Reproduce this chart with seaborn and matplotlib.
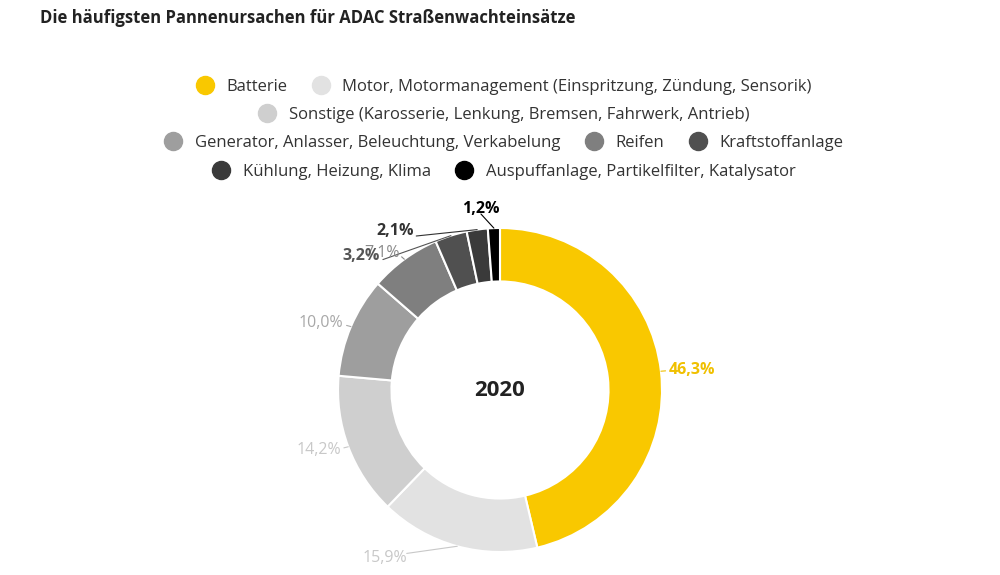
import matplotlib
matplotlib.use("Agg")
import matplotlib.pyplot as plt
import seaborn as sns
import numpy as np
from matplotlib.lines import Line2D

sns.set_theme(style="white")
plt.rcParams["font.family"] = "Open Sans"

categories = ["Batterie", "Motor, Motormanagement (Einspritzung, Zündung, Sensorik)",
              "Sonstige (Karosserie, Lenkung, Bremsen, Fahrwerk, Antrieb)",
              "Generator, Anlasser, Beleuchtung, Verkabelung", "Reifen", "Kraftstoffanlage",
              "Kühlung, Heizung, Klima", "Auspuffanlage, Partikelfilter, Katalysator"]
values = [46.3, 15.9, 14.2, 10.0, 7.1, 3.2, 2.1, 1.2]
labels = ["46,3%", "15,9%", "14,2%", "10,0%", "7,1%", "3,2%", "2,1%", "1,2%"]
colors = ["#f9c800", "#e2e2e2", "#cfcfcf", "#9e9e9e", "#7f7f7f", "#505050", "#3a3a3a", "#000000"]
label_colors = ["#f0c000", "#c8c8c8", "#c8c8c8", "#a8a8a8", "#8a8a8a", "#555555", "#333333", "#000000"]

fig = plt.figure(figsize=(10, 5.75), dpi=100)
fig.text(0.04, 1 - 18/575, "Die häufigsten Pannenursachen für ADAC Straßenwachteinsätze",
         fontsize=12, fontweight="bold", color="#222222", va="center")

rows = [[0, 1], [2], [3, 4, 5], [6, 7]]
row_y = [87, 115, 143, 172]
for r, y in zip(rows, row_y):
    handles = [Line2D([], [], marker="o", linestyle="", markersize=13, color=colors[i]) for i in r]
    fig.legend(handles, [categories[i] for i in r], loc="center", ncol=len(r),
               bbox_to_anchor=(0.5, 1 - y/575), frameon=False, fontsize=12,
               handletextpad=0.3, columnspacing=1.0, labelcolor="#333333")

ax = fig.add_axes([(500-162)/1000, (575-552)/575, 0.324, 324/575])
wedges, _ = ax.pie(values, colors=colors, startangle=90, counterclock=False,
                   wedgeprops=dict(width=0.33, edgecolor="white", linewidth=1.5))
ax.set_aspect("equal")
ax.text(0, 0, "2020", ha="center", va="center", fontsize=16, fontweight="bold", color="#222222")

# label positions for the small top slices (data coords relative to unit radius)
fixed = {1: (-0.71, -1.04), 5: (-0.86, 0.83), 6: (-0.65, 0.98), 7: (-0.12, 1.12)}
for i, w in enumerate(wedges):
    ang = np.deg2rad((w.theta1 + w.theta2) / 2)
    x0, y0 = np.cos(ang), np.sin(ang)
    if i in fixed:
        tx, ty = fixed[i]
        ha = "center"
    else:
        tx, ty = 1.05 * x0, 1.05 * y0
        ha = "left" if tx > 0 else "right"
    ax.plot([x0, tx * 0.98 + (0.12 if ha == "center" and i != 7 else 0)],
            [y0, ty * 0.97], color=label_colors[i], lw=0.8, clip_on=False)
    bold = i in (0, 5, 6, 7)
    ax.text(tx, ty, labels[i], ha=ha, va="center", fontsize=11.5, clip_on=False,
            fontweight="bold" if bold else "normal", color=label_colors[i])
ax.set_xlim(-1, 1); ax.set_ylim(-1, 1)

fig.savefig("out.png", dpi=100)
